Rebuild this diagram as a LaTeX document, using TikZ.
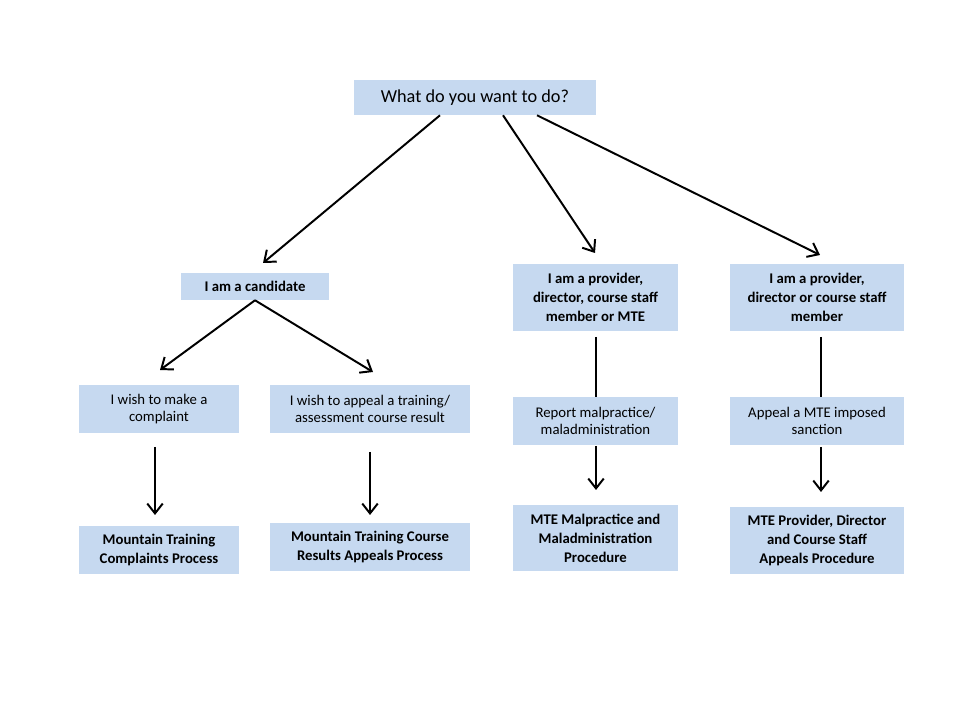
\documentclass[tikz,border=0pt]{standalone}
\usepackage{fontspec}
\setmainfont{Carlito}
\usetikzlibrary{arrows.meta,positioning}
\definecolor{boxblue}{RGB}{198,217,240}

\tikzset{
  box/.style={fill=boxblue,align=center,inner sep=1pt,font=\fontsize{10.5}{12.5}\selectfont},
  bbox/.style={box,font=\bfseries\fontsize{10.5}{13.5}\selectfont},
  arr/.style={line width=1.4pt,-{Straight Barb[length=7pt,width=11pt,line width=1.4pt]}},
  ln/.style={line width=1.4pt}
}

\begin{document}
\begin{tikzpicture}[x=0.025cm,y=-0.025cm]
  \useasboundingbox (0,0) rectangle (960,720);

	\node[box,minimum width=242\pgflinewidth,font=\fontsize{13}{15}\selectfont,minimum width=6.05cm,minimum height=0.875cm] (what) at (475,97.5) {What do you want to do?};

	\node[bbox,minimum width=3.675cm,minimum height=0.675cm] (cand) at (255,286.5) {I am a candidate};
	\node[bbox,minimum width=4.125cm,minimum height=1.675cm] (prov1) at (595.5,297.5) {I am a provider,\\director, course staff\\member or MTE};
	\node[bbox,minimum width=4.35cm,minimum height=1.675cm] (prov2) at (817,297.5) {I am a provider,\\director or course staff\\member};

	\node[box,minimum width=4cm,minimum height=1.2cm] (compl) at (159,409) {I wish to make a\\complaint};
	\node[box,minimum width=5cm,minimum height=1.2cm] (appeal) at (370,409) {I wish to appeal a training/\\assessment course result};
	\node[box,minimum width=4.125cm,minimum height=1.2cm] (report) at (595.5,421) {Report malpractice/\\maladministration};
	\node[box,minimum width=4.35cm,minimum height=1.2cm] (sanct) at (817,421) {Appeal a MTE imposed\\sanction};

	\node[bbox,minimum width=4cm,minimum height=1.2cm] (mtcp) at (159,550) {Mountain Training\\Complaints Process};
	\node[bbox,minimum width=5cm,minimum height=1.2cm] (mtca) at (370,547) {Mountain Training Course\\Results Appeals Process};
	\node[bbox,minimum width=4.125cm,minimum height=1.65cm] (mtem) at (595.5,538) {MTE Malpractice and\\Maladministration\\Procedure};
	\node[bbox,minimum width=4.35cm,minimum height=1.675cm] (mtep) at (817,540.5) {MTE Provider, Director\\and Course Staff\\Appeals Procedure};

  % arrows from the question
	\draw[arr] (what.south-|440,0) -- (263,263) coordinate (c1);
	\draw[arr] (what.south-|503,0) -- (595,253);
	\draw[arr] (what.south-|537,0) -- (820,255);

	\draw[arr] (cand.south) -- (160,370);
	\draw[arr] (cand.south) -- (373,372);

	\draw[arr] (155,447) -- (155,515);
	\draw[arr] (370,452) -- (370,515);

	\draw[ln] (596,337) -- (report.north-|596,0);
	\draw[arr] (596,446) -- (596,490);
	\draw[ln] (821,337) -- (sanct.north-|821,0);
	\draw[arr] (821,447) -- (821,492);
\end{tikzpicture}
\end{document}
